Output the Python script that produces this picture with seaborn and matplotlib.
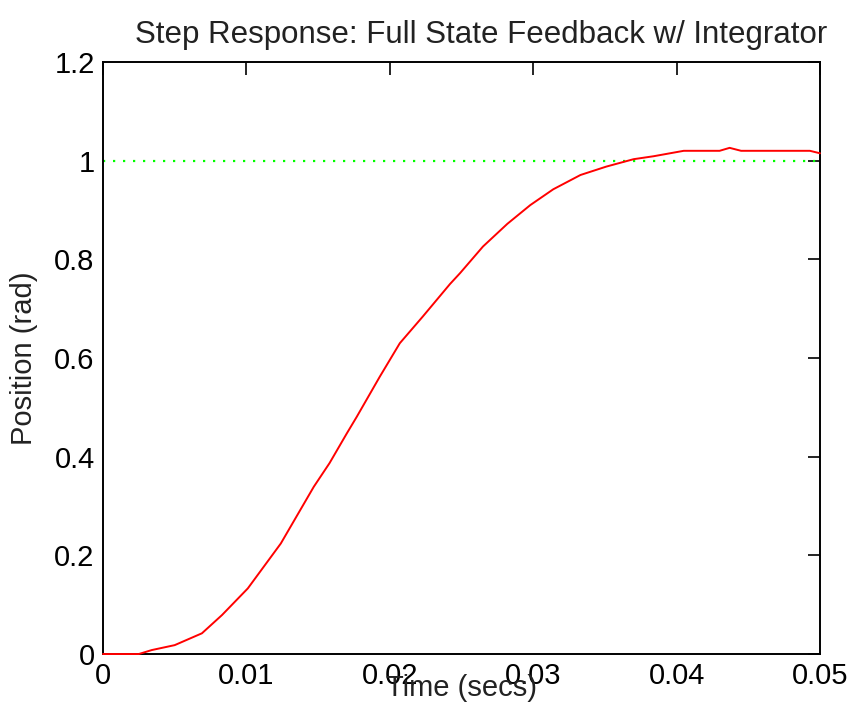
import pandas as pd
import matplotlib
matplotlib.use("Agg")
import matplotlib.pyplot as plt
import seaborn as sns

# step response
time_s = [0.0, 0.0025, 0.0034, 0.0050, 0.0069, 0.0083, 0.0101, 0.0124,
          0.0147, 0.0158, 0.0170, 0.0177, 0.0193, 0.0207, 0.0223, 0.0242,
          0.0249, 0.0265, 0.0282, 0.0298, 0.0314, 0.0333, 0.0351, 0.0370,
          0.0384, 0.0405, 0.0430, 0.0437, 0.0445, 0.0493, 0.0500]
position = [0.0, 0.0, 0.008, 0.018, 0.042, 0.079, 0.133, 0.224,
            0.339, 0.387, 0.447, 0.481, 0.562, 0.630, 0.684, 0.750,
            0.772, 0.826, 0.872, 0.910, 0.942, 0.971, 0.988, 1.003,
            1.009, 1.020, 1.020, 1.026, 1.020, 1.020, 1.015]
ref_time = [0.0, 0.05]
ref_value = [1.0, 1.0]

x_ticks = [0, 0.01, 0.02, 0.03, 0.04, 0.05]
x_labels = ["0", "0.01", "0.02", "0.03", "0.04", "0.05"]
y_ticks = [0, 0.2, 0.4, 0.6, 0.8, 1.0, 1.2]
y_labels = ["0", "0.2", "0.4", "0.6", "0.8", "1", "1.2"]

sns.set_style("white")
plt.rcParams['font.family'] = ['Liberation Sans', 'DejaVu Sans']

df = pd.DataFrame({"t": time_s, "y": position})
ref = pd.DataFrame({"t": ref_time, "y": ref_value})

fig = plt.figure(figsize=(8.49, 7.21), dpi=100)
ax = fig.add_axes([0.1213, 0.0929, 0.8445, 0.8211])

sns.lineplot(data=ref, x="t", y="y", ax=ax, color="#00ff00",
             linestyle=(0, (1, 3.5)), linewidth=1.6)
sns.lineplot(data=df, x="t", y="y", ax=ax, color="red", linewidth=1.4)
# keep the flat start visible on top of the bottom spine
ax.lines[-1].set_zorder(5)
ax.lines[-1].set_clip_on(False)

ax.set_xlim(0, 0.05)
ax.set_ylim(0, 1.2)
ax.set_xticks(x_ticks)
ax.set_xticklabels(x_labels)
ax.set_yticks(y_ticks)
ax.set_yticklabels(y_labels)
ax.tick_params(direction="in", length=9, width=1.2, labelsize=21,
               top=True, right=True, colors="black", pad=6)
for s in ax.spines.values():
    s.set_color("black")
    s.set_linewidth(1.4)

ax.set_title("Step Response: Full State Feedback w/ Integrator",
             fontsize=22.5, pad=14, color="#222222", x=0.527)
ax.set_xlabel("Time (secs)", fontsize=21, labelpad=-12, color="#222222")
ax.set_ylabel("Position (rad)", fontsize=21, labelpad=12, color="#222222")

fig.savefig("out.png", dpi=100, facecolor="white")
